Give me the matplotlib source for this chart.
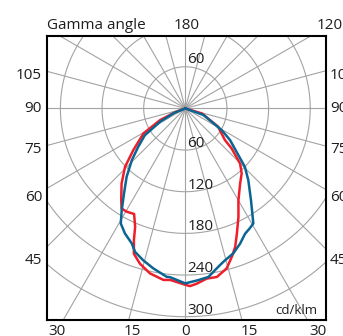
import numpy as np
import matplotlib
matplotlib.use("Agg")
import matplotlib.pyplot as plt

plt.rcParams['font.family'] = ['Open Sans', 'DejaVu Sans']

# intensity curves (cd/klm), gamma in degrees from nadir
red_left_gamma = [0, 5, 7.3, 12.1, 16.3, 19.5, 21.3, 23.0, 25.9, 29.5, 32.5, 35.0, 40.3, 45.9, 51.3, 59.2, 65.2, 70, 90]
red_left_cd = [254, 248, 249, 243, 233, 222, 204, 185, 169, 171, 171, 161, 142, 121, 96, 70, 40, 15, 0]

red_right_gamma = [0, 1.5, 3.7, 7.2, 10.6, 14.5, 17.4, 19.8, 22.4, 26.1, 30.0, 36.1, 40.9, 44.8, 49.2, 51.4, 60.9, 73, 90]
red_right_cd = [254, 256, 253, 247, 247, 238, 224, 212, 195, 174, 153, 134, 124, 112, 88, 73, 54, 25, 0]

blue_left_gamma = [0, 5.2, 6.3, 11.3, 15.5, 19.3, 21.7, 25.8, 29.3, 32.0, 35.8, 40.6, 46.0, 50.7, 56.5, 62.1, 68, 90]
blue_left_cd = [252, 244, 244, 235, 227, 219, 209, 200, 190, 173, 151, 130, 107, 88, 70, 41, 18, 0]

blue_right_gamma = [0, 4.3, 7.8, 12.5, 14.7, 18.3, 22.1, 25.5, 28.3, 30.6, 35.6, 41.3, 45.6, 48.6, 54.7, 59.2, 70, 90]
blue_right_cd = [252, 248, 245, 231, 226, 220, 210, 200, 196, 192.5, 162.5, 137.5, 120, 102, 79, 61, 28, 0]

circle_values = [60, 120, 180, 240, 300]
side_labels = ['105', '90', '75', '60', '45']
side_label_y = [48, 0, -58.6, -127.8, -219.6]
bottom_labels = ['30', '15', '0', '15', '30']
bottom_label_x = [-184.9, -76.8, 0, 91.8, 191.2]

RED = '#ee1f2a'
BLUE = '#0b6592'
GRID = '#a3a3a3'
TXT = '#1e1e1e'


def to_xy(gamma, cd, side):
    g = np.radians(gamma)
    cd = np.asarray(cd, dtype=float)
    return side * cd * np.sin(g), -cd * np.cos(g)


def half_pair(lg, lc, rg, rc):
    # join the left half (reversed) and the right half into one line
    x1, y1 = to_xy(lg, lc, -1)
    x2, y2 = to_xy(rg, rc, 1)
    return np.concatenate([x1[::-1], x2]), np.concatenate([y1[::-1], y2])


fig = plt.figure(figsize=(3.43, 3.36), dpi=100)
ax = fig.add_axes([47 / 343, 1 - 319.5 / 336, 279 / 343, 283.5 / 336])
ax.set_xlim(-199.3, 202.7)
ax.set_ylim(-304.0, 104.3)

# grid: circles and rays every 15 degrees
t = np.linspace(0, 2 * np.pi, 400)
for r in circle_values:
    ax.plot(r * np.cos(t), r * np.sin(t), color=GRID, lw=0.8, zorder=1)
for a in range(0, 360, 15):
    ar = np.radians(a)
    ax.plot([0, 500 * np.sin(ar)], [0, -500 * np.cos(ar)], color=GRID, lw=0.8, zorder=1)

# circle value labels
for r in circle_values:
    ax.text(3, -r + 4.5, str(r), fontsize=11, color=TXT, ha='left', va='baseline', zorder=2)
ax.text(3, 60 + 5.5, '60', fontsize=11, color=TXT, ha='left', va='baseline', zorder=2)

# curves
x, y = half_pair(red_left_gamma, red_left_cd, red_right_gamma, red_right_cd)
ax.plot(x, y, color=RED, lw=1.8, zorder=3, solid_joinstyle='round')
x, y = half_pair(blue_left_gamma, blue_left_cd, blue_right_gamma, blue_right_cd)
ax.plot(x, y, color=BLUE, lw=1.8, zorder=4, solid_joinstyle='round')

ax.text(189.8, -290.6, 'cd/klm', fontsize=9.5, color=TXT, ha='right', va='center')

# angle labels around the box
ax.text(-199.3, 120, 'Gamma angle', fontsize=11, color=TXT, ha='left', va='center', clip_on=False)
ax.text(2.4, 120, '180', fontsize=11, color=TXT, ha='center', va='center', clip_on=False)
ax.text(189.8, 120, '120', fontsize=11, color=TXT, ha='left', va='center', clip_on=False)
for lab, yy in zip(side_labels, side_label_y):
    ax.text(-206.5, yy, lab, fontsize=11, color=TXT, ha='right', va='center', clip_on=False)
    ax.text(208.5, yy, lab, fontsize=11, color=TXT, ha='left', va='center', clip_on=False)
for lab, xx in zip(bottom_labels, bottom_label_x):
    ax.text(xx, -310, lab, fontsize=11, color=TXT, ha='center', va='top', clip_on=False)

ax.set_xticks([])
ax.set_yticks([])
for s in ax.spines.values():
    s.set_color('black')
    s.set_linewidth(1.5)

fig.savefig('out.png', dpi=100)
